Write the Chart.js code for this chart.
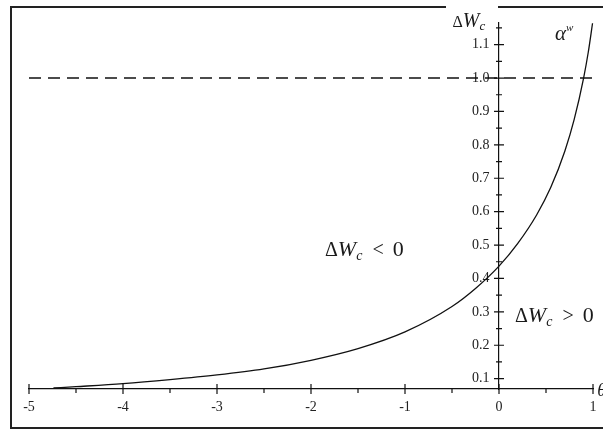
<!DOCTYPE html>
<html>
<head>
<meta charset="utf-8">
<script src="https://cdn.jsdelivr.net/npm/chart.js@4.4.1/dist/chart.umd.min.js"></script>
<style>
  html, body { margin: 0; padding: 0; background: #fff; }
  #wrap { width: 603px; height: 430px; }
</style>
</head>
<body>
<div id="wrap"><canvas id="chart" width="603" height="430"></canvas></div>
<script>
// curve alpha^w
const thetaValues = [-4.74, -4.5, -4, -3.5, -3, -2.5, -2, -1.5, -1, -0.5, -0.25, 0, 0.2, 0.4, 0.55, 0.7, 0.8, 0.9, 0.95, 0.995];
const alphaW = [0.072, 0.076, 0.085, 0.097, 0.111, 0.129, 0.155, 0.190, 0.240, 0.316, 0.370, 0.437, 0.505, 0.590, 0.672, 0.781, 0.876, 1.0, 1.078, 1.164];

// dashed level line
const dashX = [-5, 1];
const dashY = [1.0, 1.0];

const xTicks = [-5, -4, -3, -2, -1, 0, 1];
const xTickLabels = ["-5", "-4", "-3", "-2", "-1", "0", "1"];
const xMinor = [-4.5, -3.5, -2.5, -1.5, -0.5, 0.5];
const yTicks = [0.1, 0.2, 0.3, 0.4, 0.5, 0.6, 0.7, 0.8, 0.9, 1.0, 1.1];
const yTickLabels = ["0.1", "0.2", "0.3", "0.4", "0.5", "0.6", "0.7", "0.8", "0.9", "1.0", "1.1"];
const yMinor = [0.15, 0.25, 0.35, 0.45, 0.55, 0.65, 0.75, 0.85, 0.95, 1.05, 1.15];

const X_MIN = -5, X_MAX = 1;
const Y_MIN = 0.069, Y_MAX = 1.166;

const SERIF = '"Liberation Serif", "DejaVu Serif", serif';
const INK = "#111";

function rich(ctx, x, y, parts){
  for(const p of parts){
    ctx.font = (p.it ? "italic " : "") + p.size + "px " + SERIF;
    x += (p.pre || 0);
    ctx.fillText(p.t, x, y + (p.dy || 0));
    x += ctx.measureText(p.t).width;
  }
}

const maplePlot = {
  id: "maplePlot",
  afterDraw(chart){
    const ctx = chart.ctx;
    const xs = chart.scales.x, ys = chart.scales.y;
    const ax = xs.getPixelForValue(0);
    const ay = ys.getPixelForValue(Y_MIN);
    ctx.save();
    ctx.strokeStyle = INK;
    ctx.lineWidth = 1.2;
    ctx.beginPath();
    xTicks.forEach(v => { const p = xs.getPixelForValue(v); ctx.moveTo(p, ay - 5); ctx.lineTo(p, ay + 5); });
    xMinor.forEach(v => { const p = xs.getPixelForValue(v); ctx.moveTo(p, ay); ctx.lineTo(p, ay + 4); });
    yTicks.forEach(v => { const p = ys.getPixelForValue(v); ctx.moveTo(ax - 5, p); ctx.lineTo(ax + 5, p); });
    yMinor.forEach(v => { const p = ys.getPixelForValue(v); ctx.moveTo(ax - 3, p); ctx.lineTo(ax + 3, p); });
    ctx.stroke();

    // frame round the plot
    ctx.strokeStyle = "#222";
    ctx.lineWidth = 2;
    ctx.beginPath();
    ctx.moveTo(446, 7); ctx.lineTo(11, 7); ctx.lineTo(11, 428); ctx.lineTo(604, 428);
    ctx.moveTo(498, 7); ctx.lineTo(604, 7);
    ctx.stroke();

    // annotations
    ctx.fillStyle = "#1a1a1a";
    ctx.textBaseline = "alphabetic";
    ctx.textAlign = "left";
    const px = v => xs.getPixelForValue(v), py = v => ys.getPixelForValue(v);
    rich(ctx, px(-0.495), py(1.153), [
      {t: "\u0394", size: 16}, {t: "W", it: true, size: 20}, {t: "c", it: true, size: 13, dy: 3}
    ]);
    rich(ctx, px(0.596), py(1.114), [
      {t: "\u03b1", it: true, size: 21}, {t: "w", it: true, size: 11, dy: -9}
    ]);
    rich(ctx, px(-1.851), py(0.467), [
      {t: "\u0394", size: 20}, {t: "W", it: true, size: 22}, {t: "c", it: true, size: 14, dy: 4},
      {t: "<", size: 20, pre: 10}, {t: "0", size: 22, pre: 9}
    ]);
    rich(ctx, px(0.17), py(0.269), [
      {t: "\u0394", size: 20}, {t: "W", it: true, size: 22}, {t: "c", it: true, size: 14, dy: 4},
      {t: ">", size: 20, pre: 10}, {t: "0", size: 22, pre: 9}
    ]);
    rich(ctx, px(1.045), py(0.048), [{t: "\u03b8", it: true, size: 18}]);
    ctx.restore();
  }
};

const tickFont = { family: SERIF, size: 14 };

const ctx = document.getElementById("chart").getContext("2d");
new Chart(ctx, {
  type: "line",
  data: {
    datasets: [{
      data: thetaValues.map((t, i) => ({x: t, y: alphaW[i]})),
      yAxisID: "y",
      borderColor: INK,
      borderWidth: 1.3,
      pointRadius: 0,
      cubicInterpolationMode: "monotone",
      clip: false
    }, {
      data: dashX.map((t, i) => ({x: t, y: dashY[i]})),
      yAxisID: "y",
      borderColor: INK,
      borderWidth: 1.5,
      borderDash: [12, 7],
      pointRadius: 0
    }]
  },
  options: {
    responsive: false,
    animation: false,
    devicePixelRatio: 1,
    layout: { padding: { left: 29, right: 10, top: 22.6, bottom: 41 } },
    plugins: { legend: { display: false }, tooltip: { enabled: false } },
    scales: {
      x: {
        type: "linear",
        min: X_MIN, max: X_MAX,
        position: { y: Y_MIN },
        afterBuildTicks: axis => { axis.ticks = xTicks.map(v => ({value: v})); },
        grid: { display: false },
        border: { display: true, color: INK, width: 1.2 },
        ticks: {
          autoSkip: false, maxRotation: 0, padding: 2,
          color: "#222", font: tickFont,
          callback: (v, i) => xTickLabels[i]
        }
      },
      y: {
        type: "linear",
        min: Y_MIN, max: Y_MAX,
        position: { x: 0 },
        grid: { display: false },
        border: { display: true, color: INK, width: 1.2 },
        ticks: { display: false }
      },
      // carries the y tick labels, set a little left of the axis line
      yl: {
        type: "linear",
        axis: "y",
        min: Y_MIN, max: Y_MAX,
        position: { x: -0.101 },
        afterBuildTicks: axis => { axis.ticks = yTicks.map(v => ({value: v})); },
        grid: { display: false },
        border: { display: false },
        ticks: {
          autoSkip: false,
          color: "#222", font: tickFont,
          callback: (v, i) => yTickLabels[i]
        }
      }
    }
  },
  plugins: [maplePlot]
});
</script>
</body>
</html>
